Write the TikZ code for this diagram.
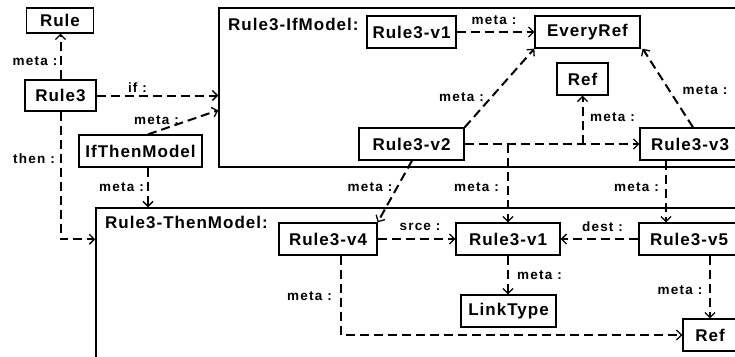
\documentclass[tikz,border=0pt]{standalone}
\usepackage{fontspec}
\setmainfont{Liberation Sans}[LetterSpace=6]
\usetikzlibrary{arrows.meta,calc}
\begin{document}
\begin{tikzpicture}[x=1pt,y=-1pt,
  box/.style={draw, line width=1.3pt, inner sep=0pt, font=\fontsize{17}{18}\selectfont\bfseries, minimum height=32pt},
  frame/.style={draw, line width=1.5pt, inner sep=0pt},
  ftitle/.style={anchor=base west, inner sep=0pt, font=\fontsize{17}{18}\selectfont\bfseries},
  lab/.style={font=\fontsize{13.5}{14}\selectfont\bfseries\addfontfeature{LetterSpace=9}, inner sep=0pt},
  ln/.style={line width=2pt, dash pattern=on 9pt off 5pt, -{Straight Barb[length=5pt,width=10pt,line width=1.3pt]}},
]
\useasboundingbox (0,0) rectangle (735,356);
\clip (0,0) rectangle (735,356);
% frames
\node[frame, minimum width=560pt, minimum height=159pt] (ifm) at (499,87.5) {};
\node[frame, minimum width=680pt, minimum height=200pt] (thenm) at (436,308) {};
\node[ftitle] (ifml) at (228,30) {Rule3-IfModel:};
\node[ftitle] (thenml) at (105,228) {Rule3-ThenModel:};
% boxes
\node[box, minimum width=67pt, minimum height=25pt] (rule) at (60,20.5) {Rule};
\node[box, minimum width=71pt, minimum height=31pt] (rule3) at (60.5,95.5) {Rule3};
\node[box, minimum width=123pt] (ifthen) at (140.5,151) {IfThenModel};
\node[box, minimum width=89pt] (v1a) at (411.5,32) {Rule3-v1};
\node[box, minimum width=105pt] (everyref) at (587.5,32) {EveryRef};
\node[box, minimum width=51pt] (refa) at (582.5,79) {Ref};
\node[box, minimum width=105pt] (v2) at (411.5,144) {Rule3-v2};
\node[box, minimum width=100pt] (v3) at (690,144) {Rule3-v3};
\node[box, minimum width=98pt] (v4) at (328,239) {Rule3-v4};
\node[box, minimum width=104pt] (v1b) at (508,239) {Rule3-v1};
\node[box, minimum width=100pt] (v5) at (689,239) {Rule3-v5};
\node[box, minimum width=95pt] (linktype) at (508.5,311) {LinkType};
\node[box, minimum width=54pt] (refb) at (710,335) {Ref};
% connectors
\draw[ln] (rule3.north) -- (rule3.north |- rule.south);
\node[lab] (l1) at (35,61) {meta :};
\draw[ln] (rule3.east) -- (rule3.east -| ifm.west);
\node[lab] (l2) at (137.5,88) {if :};
\coordinate (it) at ($(ifthen.north)+(7.5,0)$);
\coordinate (ib) at ($(ifthen.south)+(7.5,0)$);
\draw[ln] (it) -- ($(ifm.north west)+(0,103)$);
\node[lab] (l3) at (156.5,120) {meta :};
\draw[ln] (rule3.south) |- ($(thenm.north west)+(0,32)$);
\node[lab] (l4) at (34,159) {then :};
\draw[ln] (ib) -- (ib |- thenm.north);
\node[lab] (l5) at (121.5,187) {meta :};
\draw[ln] (v1a.east) -- (everyref.west);
\node[lab] (l6) at (494,20) {meta :};
\draw[ln] (v2.north east) -- (everyref.south west);
\node[lab] (l7) at (461.5,97) {meta :};
\draw[ln] ($(v3.north)+(3,0)$) -- ($(everyref.south east)+(2,0)$);
\node[lab] (l8) at (705,90) {meta :};
\draw[ln] (v2.east) -- (v3.west);
\coordinate (j1) at (v1b.north |- v2.east);
\coordinate (j2) at (refa.south |- v2.east);
\draw[ln] (j1) -- (v1b.north);
\draw[ln] (j2) -- (refa.south);
\node[lab] (l9) at (612.5,117) {meta :};
\node[lab] (l10) at (476.5,187) {meta :};
\draw[ln] ($(v2.south)+(0.5,0)$) -- (v4.north east);
\node[lab] (l11) at (370,187) {meta :};
\coordinate (a3) at ($(v3.south)+(-24,0)$);
\draw[ln] (a3) -- (a3 |- v5.north);
\node[lab] (l12) at (636.5,187) {meta :};
\draw[ln] (v4.east) -- (v1b.west);
\node[lab] (l13) at (420,227) {srce :};
\draw[ln] (v5.west) -- (v1b.east);
\node[lab] (l14) at (602.5,227) {dest :};
\draw[ln] (v1b.south) -- (v1b.south |- linktype.north);
\node[lab] (l15) at (539.5,275) {meta :};
\coordinate (a5) at (refb.north |- v5.south);
\draw[ln] (a5) -- (refb.north);
\node[lab] (l16) at (680,290) {meta :};
\coordinate (a4) at ($(v4.south)+(13,0)$);
\draw[ln] (a4) |- (refb.west);
\node[lab] (l17) at (309.5,296) {meta :};
\end{tikzpicture}
\end{document}
